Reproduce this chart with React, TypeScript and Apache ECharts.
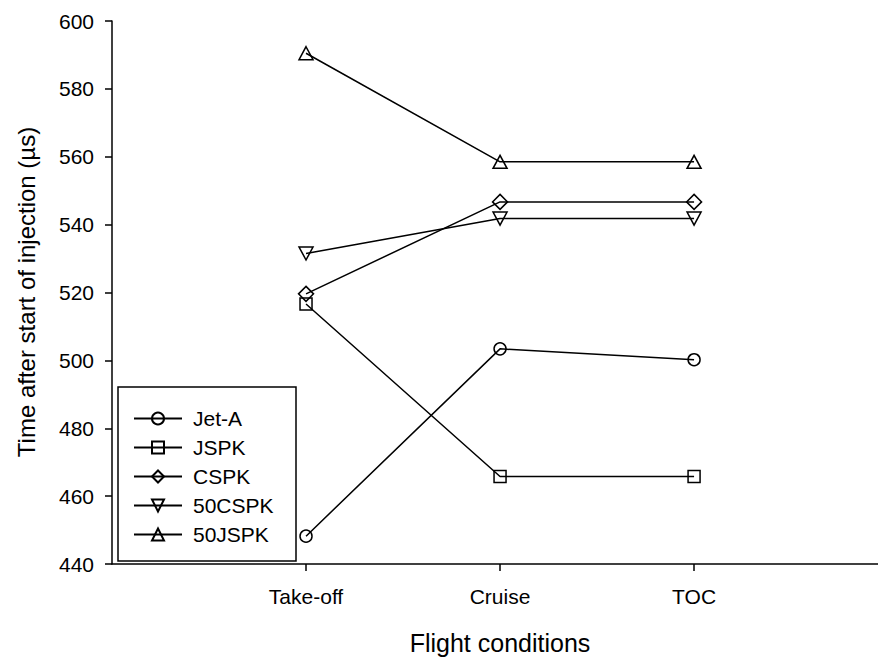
import React, { useEffect, useRef } from "react";
import * as echarts from "echarts";

const categories = ["Take-off", "Cruise", "TOC"];
const seriesNames = ["Jet-A", "JSPK", "CSPK", "50CSPK", "50JSPK"];
const jetA = [448.2, 503.4, 500.2];
const jspk = [516.6, 465.8, 465.8];
const cspk = [519.6, 546.7, 546.7];
const c50spk = [531.5, 541.8, 541.8];
const j50spk = [590.5, 558.5, 558.5];
const yTicks = { min: 440, max: 600, interval: 20 };

const FONT = "Liberation Sans, Arial, sans-serif";

export default function App() {
  const ref = useRef<HTMLDivElement>(null);
  useEffect(() => {
    document.body.style.margin = "0";
    const chart = echarts.init(ref.current!, null, { renderer: "svg" });
    const values = [jetA, jspk, cspk, c50spk, j50spk];
    const symbols = [
      "circle",
      "rect",
      "diamond",
      "path://M0,0 L10,0 L5,9 Z",
      "triangle",
    ];
    const sizes: any[] = [12, 12, [15, 15], [14, 13], [14, 13]];
    const series = seriesNames.map((name, k) => ({
      name,
      type: "line",
      data: categories.map((_, i) => [i + 1, values[k][i]]),
      symbol: symbols[k],
      symbolSize: sizes[k],
      showAllSymbol: true,
      lineStyle: { color: "#000", width: 1.5 },
      itemStyle: { color: "rgba(255,255,255,0)", borderColor: "#000", borderWidth: 1.5 },
      emphasis: { disabled: true },
    }));
    chart.setOption({
      animation: false,
      grid: { left: 112, top: 21, right: 0, bottom: 95, outerBoundsMode: "none" },
      xAxis: {
        type: "value",
        min: 0,
        max: 3.948,
        axisLine: { lineStyle: { color: "#000", width: 1.5 } },
        axisTick: { show: true, length: 7, customValues: [1, 2, 3], lineStyle: { color: "#000", width: 1.5 } },
        axisLabel: {
          customValues: [1, 2, 3],
          formatter: (v: number) => categories[Math.round(v) - 1] ?? "",
          color: "#000",
          fontSize: 21,
          fontFamily: FONT,
          margin: 22,
        },
        splitLine: { show: false },
      },
      yAxis: {
        type: "value",
        min: yTicks.min,
        max: yTicks.max,
        interval: yTicks.interval,
        axisLine: { show: true, lineStyle: { color: "#000", width: 1.5 } },
        axisTick: { show: true, length: 7, lineStyle: { color: "#000", width: 1.5 } },
        axisLabel: { color: "#000", fontSize: 21, fontFamily: FONT, margin: 18 },
        splitLine: { show: false },
      },
      legend: {
        orient: "vertical",
        left: 133,
        top: 408,
        padding: 0,
        itemWidth: 48,
        itemHeight: 15,
        itemGap: 8,
        data: seriesNames,
        textStyle: { color: "#000", fontSize: 21, fontFamily: FONT, padding: [0, 0, 0, 6] },
        selectedMode: false,
      },
      graphic: [
        {
          type: "rect",
          z: -1,
          shape: { x: 118, y: 387, width: 178, height: 174 },
          style: { fill: "#fff", stroke: "#000", lineWidth: 1.5 },
        },
        {
          type: "text",
          x: 500,
          y: 643,
          style: { text: "Flight conditions", fontSize: 25, fontFamily: FONT, fill: "#000", align: "center", verticalAlign: "middle" },
        },
        {
          type: "text",
          x: 26,
          y: 292,
          rotation: Math.PI / 2,
          style: { text: "Time after start of injection (µs)", fontSize: 24, fontFamily: FONT, fill: "#000", align: "center", verticalAlign: "middle" },
        },
      ],
      series,
    });
    return () => chart.dispose();
  }, []);
  return <div ref={ref} style={{ width: 878, height: 659 }} />;
}
